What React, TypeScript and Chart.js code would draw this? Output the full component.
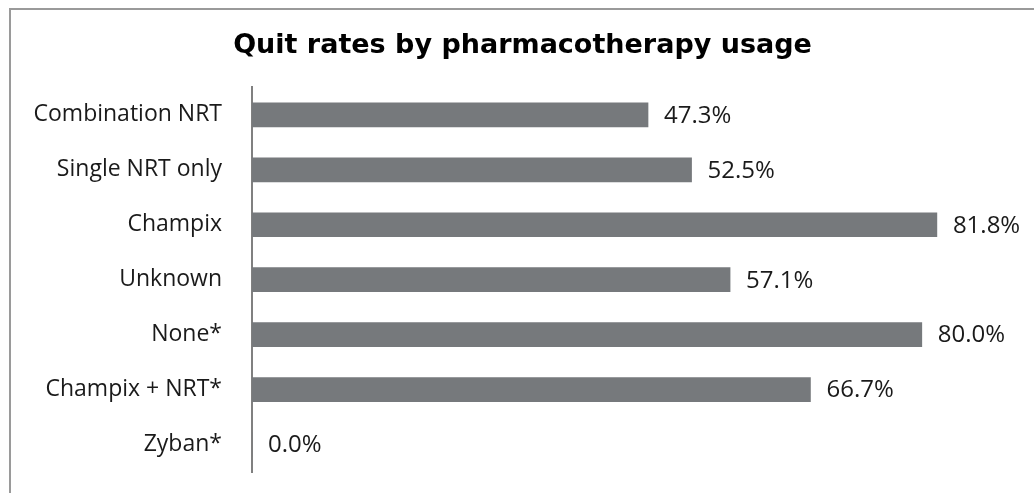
import React, { useEffect, useRef } from "react";
import { Chart, registerables } from "chart.js";

Chart.register(...registerables);

const categories = [
  "Combination NRT",
  "Single NRT only",
  "Champix",
  "Unknown",
  "None*",
  "Champix + NRT*",
  "Zyban*",
];
const quitRates = [47.3, 52.5, 81.8, 57.1, 80.0, 66.7, 0.0];
const titleText = "Quit rates by pharmacotherapy usage";

const valueLabels = {
  id: "valueLabels",
  afterDatasetsDraw(chart: any) {
    const { ctx } = chart;
    const meta = chart.getDatasetMeta(0);
    ctx.save();
    ctx.font = '24px "Open Sans"';
    ctx.fillStyle = "#1a1a1a";
    ctx.textAlign = "left";
    ctx.textBaseline = "middle";
    meta.data.forEach((bar: any, i: number) => {
      const v = chart.data.datasets[0].data[i] as number;
      ctx.fillText(v.toFixed(1) + "%", bar.x + 16, bar.y + 1);
    });
    ctx.restore();
  },
};

export default function App() {
  const ref = useRef<HTMLCanvasElement>(null);
  useEffect(() => {
    if (!ref.current) return;
    const chart = new Chart(ref.current, {
      type: "bar",
      data: {
        labels: categories,
        datasets: [
          {
            data: quitRates,
            backgroundColor: "#76797c",
            barThickness: 24,
          },
        ],
      },
      options: {
        indexAxis: "y",
        animation: false,
        responsive: false,
        layout: { padding: { right: 0, bottom: 21, left: 0, top: 0 } },
        plugins: {
          legend: { display: false },
          tooltip: { enabled: false },
          title: {
            display: true,
            text: titleText,
            color: "#000",
            font: { family: "DejaVu Sans", size: 27, weight: "bold" },
            padding: { top: 20, bottom: 25 },
          },
        },
        scales: {
          x: { display: false, min: 0, max: 93.4 },
          y: {
            grid: { display: false, drawTicks: true, tickLength: 30 },
            border: { display: true, color: "#808080", width: 2 },
            ticks: {
              color: "#1a1a1a",
              font: { family: "Open Sans", size: 23 },
              padding: 0,
            },
            afterFit(scale: any) {
              scale.width = 241;
            },
          },
        },
      },
      plugins: [valueLabels],
    });
    return () => chart.destroy();
  }, []);
  return (
    <div
      style={{
        position: "fixed",
        left: 9,
        top: 8,
        width: 1025,
        height: 485,
        borderLeft: "2px solid #9a9a9a",
        borderTop: "2px solid #9a9a9a",
        background: "#fff",
      }}
    >
      <canvas ref={ref} width={1023} height={483} style={{ display: "block" }} />
    </div>
  );
}
